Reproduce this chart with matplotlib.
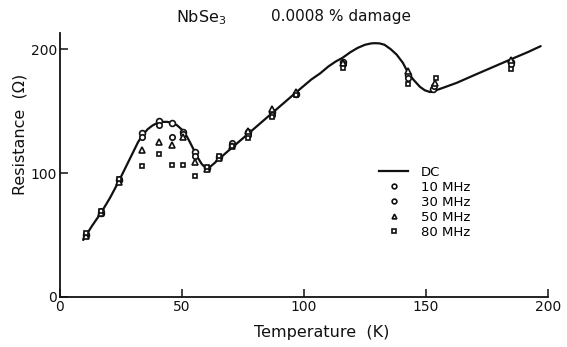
import matplotlib
matplotlib.use("Agg")
import matplotlib.pyplot as plt
from matplotlib.lines import Line2D

# DC resistance curve (temperature in K, resistance in ohm)
dc_T = [9.5, 13, 17, 20.5, 24, 27, 30, 32, 34, 36, 38, 40, 42, 44, 46, 48, 50,
        52, 54, 56, 58, 59.5, 60.8, 63, 65.5, 70.5, 77, 87, 97, 103, 106.6, 110,
        113, 115.8, 119, 122, 125, 127.5, 129.1, 131, 133, 135.5, 138, 140.5,
        142.8, 145, 147.5, 149.5, 151.6, 153, 154.4, 157, 162.6, 170, 178, 186,
        192, 197]
dc_R = [46, 57, 68.5, 80, 93, 105, 117, 125, 131, 135.5, 138.5, 140.5, 141.3,
        141.3, 140.5, 138.5, 135, 129.5, 122, 114, 107.5, 104.5, 103.8, 107.5,
        112, 120.5, 131.5, 148.5, 165.5, 175.5, 180.4, 186, 190, 193, 197.5, 201,
        203.5, 204.6, 204.8, 204.6, 203.5, 200, 195.5, 189, 180.4, 175, 169.6,
        166.8, 165.4, 165.6, 167, 168.8, 172.8, 179.2, 186, 192.8, 197.8, 202.4]

# Measurement temperatures for the RF data
T_rf = [10.5, 17, 24.3, 33.5, 40.5, 45.8, 50.6, 55.5, 60.2, 65.3, 70.6, 77,
        86.7, 96.7, 115.8, 142.7, 153.7, 185]
T_rf_153 = [153.0, 153.4, 153.8, 154.2]  # small offsets at the 153 K cluster

R_10 = [50, 68, 94, 132, 142, 140.6, 133, 117, 104, 113, 123, 133,
        149, 164, 190, 179, 168, 190]
R_30 = [51, 69, 95, 128.8, 138.7, 128.8, 131.5, 114, 104, 113, 124, 131,
        147, 164, 188, 177, 170, 188]
R_50 = [49, 68, 93, 119, 125, 123, 129, 109, 103, 112, 122, 134,
        152, 165, 189, 182, 173, 191]
R_80 = [52, 69, 95, 105.6, 115, 106.5, 106.5, 98, 105, 114, 122, 128,
        145, 163, 185, 172, 177, 184]

x_ticks = [0, 50, 100, 150, 200]
y_ticks = [0, 100, 200]

fig = plt.figure(figsize=(5.67, 3.47), dpi=100)
ax = fig.add_axes([60 / 567, 50 / 347, 488 / 567, 264 / 347])

ink = "#111111"
ax.plot(dc_T, dc_R, color=ink, lw=1.6, solid_capstyle="round", zorder=3, label="DC")


def temps(i_series):
    t = list(T_rf)
    t[16] = T_rf_153[i_series]
    return t


mk = dict(linestyle="none", markerfacecolor="white", markeredgecolor=ink,
          markeredgewidth=1.2, zorder=4)
ax.plot(temps(0), R_10, marker="o", markersize=4.2, label="10 MHz", **mk)
ax.plot(temps(1), R_30, marker="o", markersize=3.9, label="30 MHz", **mk)
ax.plot(temps(2), R_50, marker="^", markersize=4.3, label="50 MHz", **mk)
ax.plot(temps(3), R_80, marker="s", markersize=3.5, label="80 MHz", **mk)

ax.set_xlim(0, 200)
ax.set_ylim(0, 213)
ax.set_xticks(x_ticks)
ax.set_yticks(y_ticks)
ax.tick_params(direction="in", length=6, width=1.1, labelsize=10, colors=ink,
               pad=2)
for s in ("top", "right"):
    ax.spines[s].set_visible(False)
for s in ("left", "bottom"):
    ax.spines[s].set_linewidth(1.3)
    ax.spines[s].set_color(ink)

fig.text(20 / 567, 1 - 134 / 347, "Resistance  (Ω)", rotation=90,
         ha="center", va="center", fontsize=11.5, color=ink)
fig.text(322 / 567, 1 - 333 / 347, "Temperature  (K)", ha="center",
         va="center", fontsize=11.5, color=ink)
fig.text(201 / 567, 1 - 18 / 347, "NbSe$_3$", ha="center", va="center",
         fontsize=11.5, color=ink)
fig.text(341 / 567, 1 - 16 / 347, "0.0008 % damage", ha="center",
         va="center", fontsize=11, color=ink)

handles = [
    Line2D([], [], color=ink, lw=1.6),
    Line2D([], [], marker="o", markersize=3.4, **mk),
    Line2D([], [], marker="o", markersize=3.4, **mk),
    Line2D([], [], marker="^", markersize=3.4, **mk),
    Line2D([], [], marker="s", markersize=3.0, **mk),
]
ax.legend(handles, ["DC", "10 MHz", "30 MHz", "50 MHz", "80 MHz"],
          loc="upper left", bbox_to_anchor=((379 - 60) / 488, (297 - 166) / 264),
          frameon=False, fontsize=9.5, handlelength=2.2, handletextpad=1.0,
          labelspacing=0.15, borderpad=0, borderaxespad=0)

fig.savefig("out.png", dpi=100)
